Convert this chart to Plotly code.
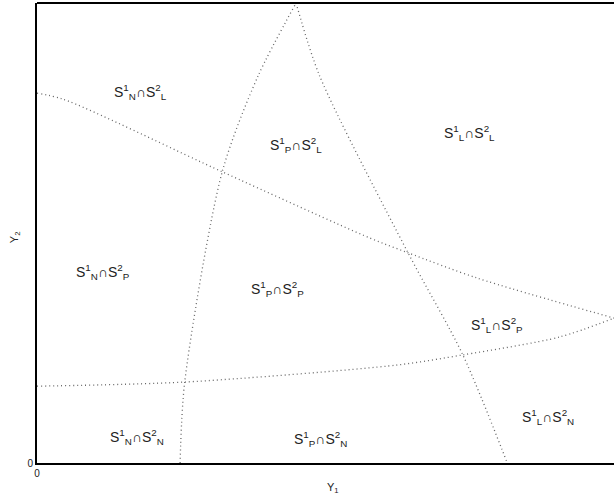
import plotly.graph_objects as go

# Boundary curves (axis units, 0..10 on both axes)
upper_x = [0.0, 0.45, 3.21, 5.77, 6.43, 7.63, 10.0]
upper_y = [8.04, 7.91, 6.33, 4.89, 4.57, 4.02, 3.15]

lower_x = [0.0, 2.56, 6.24, 7.38, 9.06, 10.0]
lower_y = [1.67, 1.76, 2.13, 2.35, 2.74, 3.15]

left_x = [2.48, 2.56, 3.21, 3.83, 4.49]
left_y = [0.0, 1.76, 6.33, 8.41, 10.0]

right_x = [4.49, 4.90, 6.43, 7.38, 8.15]
right_y = [10.0, 8.41, 4.57, 2.35, 0.0]

# Region labels
label_text = [
    "S<sup>1</sup><sub>N</sub>∩S<sup>2</sup><sub>L</sub>",
    "S<sup>1</sup><sub>P</sub>∩S<sup>2</sup><sub>L</sub>",
    "S<sup>1</sup><sub>L</sub>∩S<sup>2</sup><sub>L</sub>",
    "S<sup>1</sup><sub>N</sub>∩S<sup>2</sup><sub>P</sub>",
    "S<sup>1</sup><sub>P</sub>∩S<sup>2</sup><sub>P</sub>",
    "S<sup>1</sup><sub>L</sub>∩S<sup>2</sup><sub>P</sub>",
    "S<sup>1</sup><sub>N</sub>∩S<sup>2</sup><sub>N</sub>",
    "S<sup>1</sup><sub>P</sub>∩S<sup>2</sup><sub>N</sub>",
    "S<sup>1</sup><sub>L</sub>∩S<sup>2</sup><sub>N</sub>",
]
label_x = [1.79, 4.49, 7.49, 1.14, 4.16, 7.97, 1.73, 4.92, 8.86]
label_y = [8.07, 6.91, 7.17, 4.15, 3.78, 3.0, 0.57, 0.52, 1.0]

fig = go.Figure()
for xs, ys in [(upper_x, upper_y), (lower_x, lower_y), (left_x, left_y), (right_x, right_y)]:
    fig.add_trace(go.Scatter(
        x=xs, y=ys, mode="lines",
        line=dict(color="#666666", width=1.3, dash="1px,3px", shape="spline", smoothing=0.8),
        hoverinfo="skip", showlegend=False,
    ))

for t, x, y in zip(label_text, label_x, label_y):
    fig.add_annotation(x=x, y=y, text=t, showarrow=False,
                       font=dict(family="Liberation Sans, Arial", size=14, color="#222222"))

# axis titles
fig.add_annotation(xref="paper", yref="paper", x=0.513, y=0, yshift=-25,
                   text="Y<sub>1</sub>", showarrow=False, yanchor="middle",
                   font=dict(family="Liberation Sans, Arial", size=11, color="#222222"))
fig.add_annotation(xref="paper", yref="paper", x=0, y=0.491, xshift=-22,
                   text="Y<sub>2</sub>", showarrow=False, textangle=-90, xanchor="center",
                   font=dict(family="Liberation Sans, Arial", size=11, color="#222222"))

fig.add_shape(type="line", xref="paper", yref="paper", x0=0, x1=1, y0=1, y1=1,
              line=dict(color="black", width=2))

fig.update_layout(
    width=614, height=502,
    margin=dict(l=37, r=0, t=3, b=39),
    paper_bgcolor="white", plot_bgcolor="white",
    font=dict(family="Liberation Sans, Arial", size=10, color="#222222"),
    xaxis=dict(range=[0, 10], showgrid=False, zeroline=False, showline=True,
               linecolor="black", linewidth=2, tickvals=[0], ticktext=["0"],
               ticks="", automargin=False),
    yaxis=dict(range=[0, 10], showgrid=False, zeroline=False, showline=True,
               linecolor="black", linewidth=2, tickvals=[0], ticktext=["0"],
               ticks="", automargin=False),
)

fig.write_html("out.html", config={"displayModeBar": False},
               post_script="document.body.style.margin='0';document.body.style.overflow='hidden';")
